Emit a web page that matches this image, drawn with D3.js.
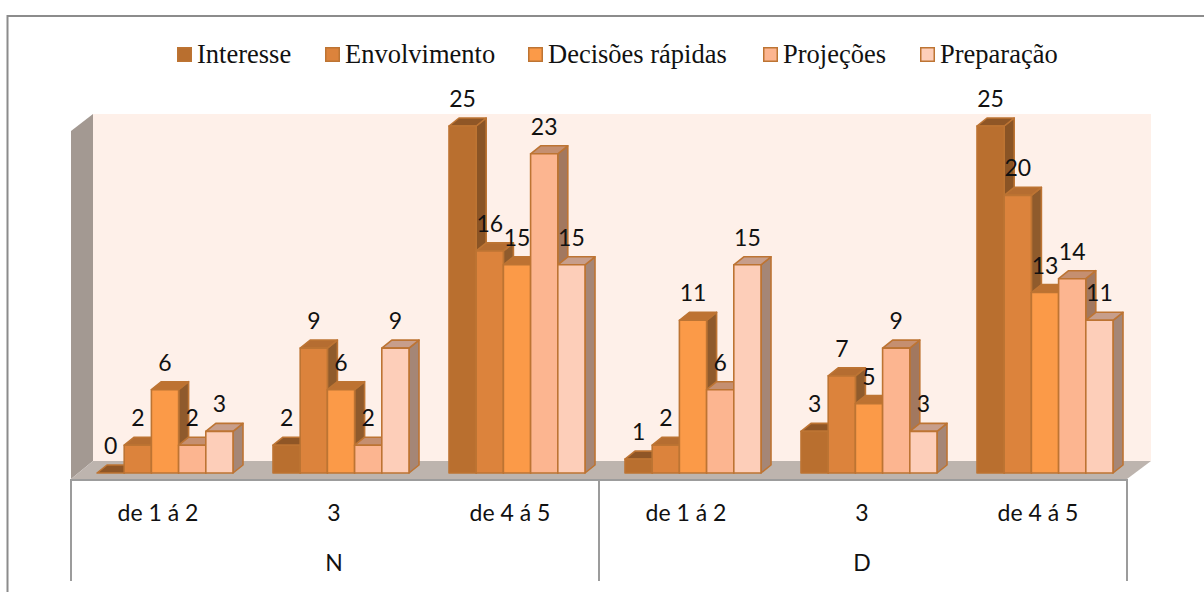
<!DOCTYPE html>
<html>
<head>
<meta charset="utf-8">
<script src="https://cdn.jsdelivr.net/npm/d3@7/dist/d3.min.js"></script>
<style>
  html, body { margin: 0; padding: 0; background: #fff; }
  svg { display: block; }
</style>
</head>
<body>
<svg id="chart" width="1204" height="592"></svg>
<script>
// Survey answers by score band, split by the N and D groups.
const groups = ["N", "D"];
const bands = ["de 1 á 2", "3", "de 4 á 5", "de 1 á 2", "3", "de 4 á 5"];
const seriesNames = ["Interesse", "Envolvimento", "Decisões rápidas", "Projeções", "Preparação"];
const interesse = [0, 2, 25, 1, 3, 25];
const envolvimento = [2, 9, 16, 2, 7, 20];
const decisoes = [6, 6, 15, 11, 5, 13];
const projecoes = [2, 2, 23, 6, 9, 14];
const preparacao = [3, 9, 15, 15, 3, 11];
const seriesValues = [interesse, envolvimento, decisoes, projecoes, preparacao];

const fronts = ["#b96f2f", "#dc833c", "#fb9a48", "#fcb590", "#fdceb9"];
const tops = ["#8f5626", "#b56d31", "#bd7232", "#c58f70", "#c79e8b"];
const sides = ["#8a5425", "#8f5b2c", "#8f5a2c", "#a2785f", "#a58676"];
const strokeColor = "#bd7433";

const svg = d3.select("#chart");

// Oblique projection used for the 3D floor, walls and bar depth.
const left = 71, right = 1127, floorFront = 479, wallDy = 18, wallTop = 114;
const wallLeft = 93, wallRight = 1151;
const barDx = 10, barDy = 8;

const x = d3.scaleBand().domain(d3.range(bands.length)).range([left, right]);
const inner = d3.scaleBand().domain(d3.range(seriesNames.length)).range([26, 162]);
const y = d3.scaleLinear().domain([0, 25]).range([473, 126]);

const poly = pts => pts.map(p => p.join(",")).join(" ");

// Outer chart frame: top and left edges only.
svg.append("path")
  .attr("d", "M7.5,592V16H1204")
  .attr("fill", "none").attr("stroke", "#8c8c8c").attr("stroke-width", 2);

// Back wall, side wall and floor.
svg.append("rect").attr("x", wallLeft).attr("y", wallTop)
  .attr("width", wallRight - wallLeft).attr("height", floorFront - wallDy - wallTop)
  .attr("fill", "#fef0e9");
svg.append("polygon")
  .attr("points", poly([[left, wallTop + 17], [wallLeft, wallTop], [wallLeft, floorFront - wallDy], [left, floorFront]]))
  .attr("fill", "#a39992");
svg.append("polygon")
  .attr("points", poly([[left, floorFront], [right, floorFront], [wallRight, floorFront - wallDy], [wallLeft, floorFront - wallDy]]))
  .attr("fill", "#bdb4ae");

// Bars, painted left to right so each front covers its neighbour's side.
const bars = [];
bands.forEach((_, c) => seriesNames.forEach((_, s) => bars.push({ c, s, v: seriesValues[s][c] })));
const w = inner.bandwidth();

const bar = svg.append("g").selectAll("g").data(bars).join("g")
  .attr("stroke", strokeColor).attr("stroke-width", 1.6).attr("stroke-linejoin", "round");
const bx = d => x(d.c) + inner(d.s);

bar.append("polygon").attr("fill", d => sides[d.s])
  .attr("points", d => poly([[bx(d) + w, y(d.v)], [bx(d) + w + barDx, y(d.v) - barDy], [bx(d) + w + barDx, y(0) - barDy], [bx(d) + w, y(0)]]));
bar.append("polygon").attr("fill", d => tops[d.s])
  .attr("points", d => poly([[bx(d), y(d.v)], [bx(d) + barDx, y(d.v) - barDy], [bx(d) + w + barDx, y(d.v) - barDy], [bx(d) + w, y(d.v)]]));
bar.append("rect").attr("fill", d => fronts[d.s])
  .attr("x", bx).attr("y", d => y(d.v)).attr("width", w).attr("height", d => y(0) - y(d.v));

// Value labels above each bar.
const labelFont = "Lato, 'Open Sans', sans-serif";
svg.append("g").selectAll("text").data(bars).join("text")
  .attr("x", d => bx(d) + w / 2)
  .attr("y", d => y(d.v) - 19)
  .attr("text-anchor", "middle")
  .attr("font-family", labelFont)
  .attr("font-size", 23).attr("fill", "#111")
  .text(d => d.v);

// Two-level category axis below the floor.
const axisColor = "#9c9c9c";
const axis = svg.append("g").attr("stroke", axisColor).attr("stroke-width", 2);
axis.append("line").attr("x1", left).attr("x2", right).attr("y1", floorFront + 1).attr("y2", floorFront + 1);
[left, x(3), right].forEach(px => {
  axis.append("line").attr("x1", px).attr("x2", px).attr("y1", floorFront).attr("y2", 581);
});
svg.append("g").selectAll("text").data(bands).join("text")
  .attr("x", (d, i) => x(i) + x.bandwidth() / 2 - 1).attr("y", 521)
  .attr("text-anchor", "middle").attr("font-family", labelFont).attr("font-size", 23).attr("fill", "#111")
  .text(d => d);
svg.append("g").selectAll("text").data(groups).join("text")
  .attr("x", (d, i) => x(i * 3) + x.bandwidth() * 1.5 - 1).attr("y", 571)
  .attr("text-anchor", "middle").attr("font-family", labelFont).attr("font-size", 23).attr("fill", "#111")
  .text(d => d);

// Legend along the top.
const legendX = [177, 325, 528, 763, 920];
const legend = svg.append("g").selectAll("g").data(seriesNames).join("g")
  .attr("transform", (d, i) => `translate(${legendX[i]},47)`);
legend.append("rect").attr("x", 0.75).attr("y", 0.75).attr("width", 13.5).attr("height", 13.5)
  .attr("fill", (d, i) => fronts[i]).attr("stroke", strokeColor).attr("stroke-width", 1.5);
legend.append("text").attr("x", 20).attr("y", 16)
  .attr("font-family", "'Liberation Serif', serif").attr("font-size", 26.5).attr("fill", "#111")
  .text(d => d);
</script>
</body>
</html>
